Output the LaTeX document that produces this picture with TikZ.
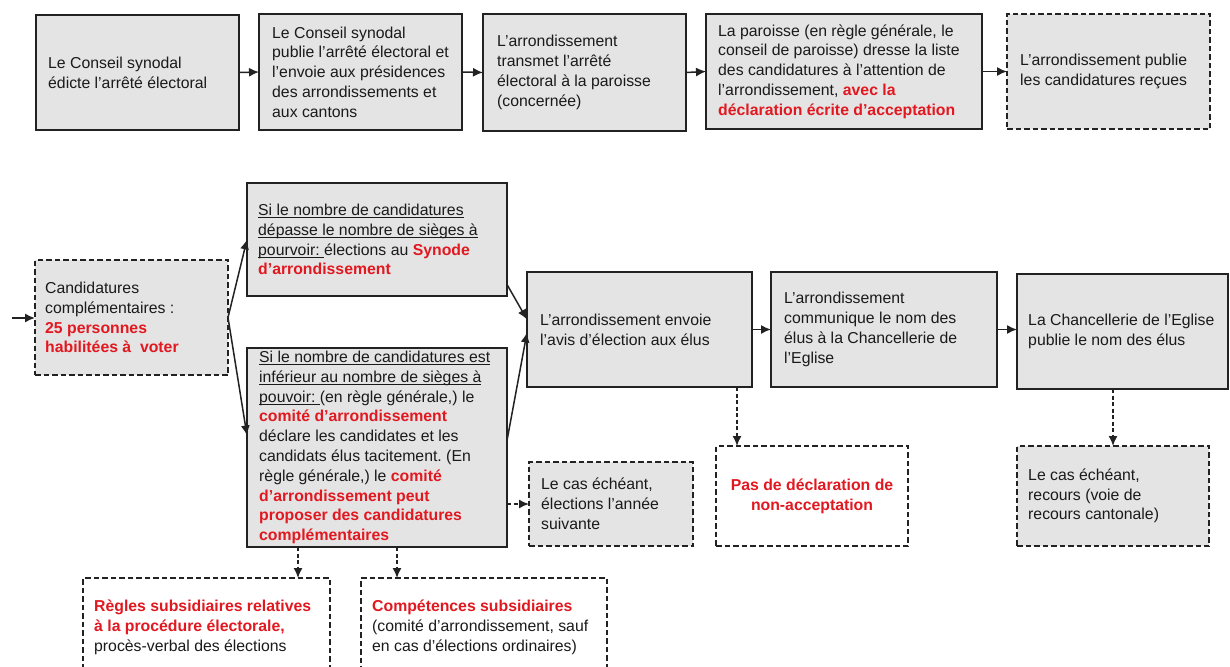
\documentclass[tikz,border=0pt]{standalone}
\usepackage{fontspec}
\setmainfont{Liberation Sans}
\usetikzlibrary{arrows.meta,calc}
\definecolor{boxgray}{RGB}{228,228,228}
\definecolor{edgecol}{RGB}{34,34,34}
\definecolor{accent}{RGB}{226,24,32}
\definecolor{ink}{RGB}{26,26,26}
\newcommand{\rb}[1]{\textcolor{accent}{\bfseries #1}}
\newcommand{\uln}[1]{\setbox0\hbox{#1}\rlap{\rule[-2.6pt]{\wd0}{0.9pt}}\box0}
\frenchspacing
\begin{document}
\begin{tikzpicture}[x=1pt,y=-1pt,
  box/.style={draw=edgecol,line width=1.7pt,fill=boxgray,inner sep=0pt,outer sep=0pt,anchor=north west},
  dbox/.style={box,line width=1.5pt,dash pattern=on 5.5pt off 3pt},
  wdbox/.style={dbox,fill=white},
  txt/.style={align=left,inner sep=0pt,anchor=west,text=ink,font=\fontsize{15.8pt}{19.8pt}\selectfont},
  arr/.style={draw=edgecol,line width=1.5pt,-{Latex[length=10pt,width=9pt]}},
  darr/.style={arr,dash pattern=on 4pt off 2.5pt}]
\useasboundingbox (0,0) rectangle (1230,666);
\fill[white] (0,0) rectangle (1230,666);
\begin{scope}
\clip (0,0) rectangle (1230,666);
% top row
\node[box,minimum width=203pt,minimum height=115pt] (A) at (36,15) {};
\node[txt] (At) at ($(A.west)+(12,0)$) {Le Conseil synodal\\édicte l’arrêté électoral};
\node[box,minimum width=203pt,minimum height=116pt] (B) at (259,14) {};
\node[txt] (Bt) at ($(B.west)+(13,0)$) {Le Conseil synodal\\publie l’arrêté électoral et\\l’envoie aux présidences\\des arrondissements et\\aux cantons};
\node[box,minimum width=203pt,minimum height=117pt] (C) at (483,14) {};
\node[txt] (Ct) at ($(C.west)+(14,0)$) {L’arrondissement\\transmet l’arrêté\\électoral à la paroisse\\(concernée)};
\node[box,minimum width=276pt,minimum height=115pt] (D) at (706,14) {};
\node[txt] (Dt) at ($(D.west)+(12,0)$) {La paroisse (en règle générale, le\\conseil de paroisse) dresse la liste\\des candidatures à l’attention de\\l’arrondissement, \rb{avec la}\\\rb{déclaration écrite d’acceptation}};
\node[dbox,minimum width=203pt,minimum height=115pt] (E) at (1007,14) {};
\node[txt] (Et) at ($(E.west)+(13,0)$) {L’arrondissement publie\\les candidatures reçues};
\draw[arr] (A.east) -- (B.west);
\draw[arr] (B.east) -- (C.west);
\draw[arr] (C.east) -- (D.west);
\draw[arr] (D.east) -- (E.west);
% middle
\node[dbox,minimum width=193pt,minimum height=115pt] (F) at (35,260) {};
\node[txt] (Ft) at ($(F.west)+(10,0)$) {Candidatures\\complémentaires :\\\rb{25 personnes}\\\rb{habilitées à\ \ voter}};
\coordinate (in) at (12,318);
\draw[arr] (in) -- (in -| F.west);
\node[box,minimum width=260pt,minimum height=113pt] (G) at (247,183) {};
\node[txt] (Gt) at ($(G.west)+(11,0)$) {\uln{Si le nombre de candidatures}\\\uln{dépasse le nombre de sièges à}\\\uln{pourvoir:\ }élections au \rb{Synode}\\\rb{d’arrondissement}};
\node[box,minimum width=260pt,minimum height=199pt] (H) at (247,348) {};
\node[txt] (Ht) at ($(H.west)+(12,0)$) {\uln{Si le nombre de candidatures est}\\\uln{inférieur au nombre de sièges à}\\\uln{pouvoir:\ }(en règle générale,) le\\\rb{comité d’arrondissement}\\déclare les candidates et les\\candidats élus tacitement. (En\\règle générale,) le \rb{comité}\\\rb{d’arrondissement peut}\\\rb{proposer des candidatures}\\\rb{complémentaires}};
\node[box,minimum width=225pt,minimum height=115pt] (I) at (527,272) {};
\node[txt] (It) at ($(I.west)+(13,0)$) {L’arrondissement envoie\\l’avis d’élection aux élus};
\node[box,minimum width=226pt,minimum height=115pt] (J) at (771,272) {};
\node[txt] (Jt) at ($(J.west)+(13,0)$) {L’arrondissement\\communique le nom des\\élus à la Chancellerie de\\l’Eglise};
\node[box,minimum width=211pt,minimum height=115pt] (K) at (1017,274) {};
\node[txt] (Kt) at ($(K.west)+(11,0)$) {La Chancellerie de l’Eglise\\publie le nom des élus};
\draw[arr] (F.east) -- (G.west);
\draw[arr] (F.east) -- ([yshift=12pt]H.west);
\draw[arr] ([yshift=-45pt]G.east) -- ([yshift=10pt]I.west);
\draw[arr] ([yshift=7pt]H.east) -- ([yshift=-3pt]I.west);
\draw[arr] (I.east) -- (J.west);
\draw[arr] (J.east) -- (J.east -| K.west);
% lower
\node[wdbox,minimum width=192pt,minimum height=100pt] (L) at (716,446) {};
\node[txt,align=center,anchor=center] (Lt) at (L.center) {\rb{Pas de déclaration de}\\\rb{non-acceptation}};
\node[dbox,minimum width=192pt,minimum height=100pt] (M) at (1017,446) {};
\node[txt] (Mt) at ($(M.west)+(11,0)$) {Le cas échéant,\\recours (voie de\\recours cantonale)};
\node[dbox,minimum width=164pt,minimum height=84pt] (N) at (529,462) {};
\node[txt] (Nt) at ($(N.west)+(12,0)$) {Le cas échéant,\\élections l’année\\suivante};
\node[wdbox,minimum width=247pt,minimum height=100pt] (O) at (83,578) {};
\node[txt,anchor=north west] (Ot) at ($(O.north west)+(11,22)$) {\rb{Règles subsidiaires relatives}\\\rb{à la procédure électorale,}\\procès-verbal des élections};
\node[wdbox,minimum width=246pt,minimum height=100pt] (P) at (361,578) {};
\node[txt,anchor=north west] (Pt) at ($(P.north west)+(11,22)$) {\rb{Compétences subsidiaires}\\(comité d’arrondissement, sauf\\en cas d’élections ordinaires)};
\draw[darr] ([xshift=97.5pt]I.south) -- ([xshift=97.5pt]I.south |- L.north);
\draw[darr] (M.north |- K.south) -- (M.north);
\draw[darr] (H.east |- N.west) -- (N.west);
\draw[darr] ([xshift=-79pt]H.south) -- ([xshift=-79pt]H.south |- O.north);
\draw[darr] ([xshift=20pt]H.south) -- ([xshift=20pt]H.south |- P.north);
\end{scope}
\end{tikzpicture}
\end{document}
